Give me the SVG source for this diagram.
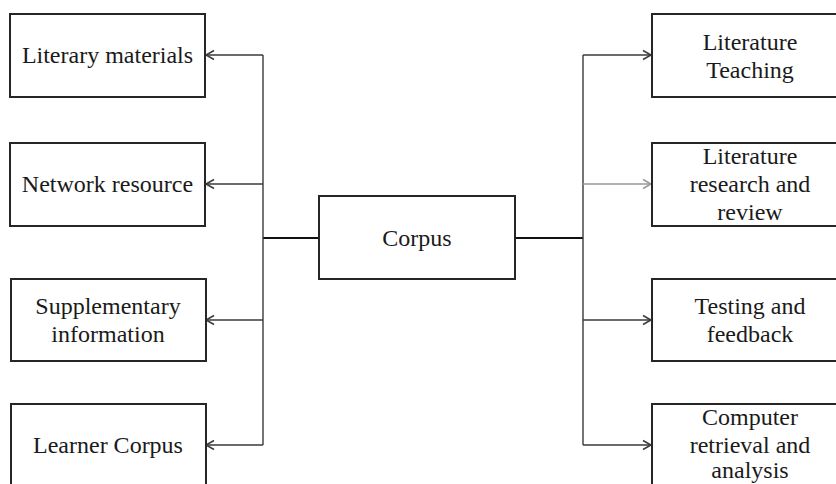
<svg xmlns="http://www.w3.org/2000/svg" width="836" height="484" viewBox="0 0 836 484">
<style>
.box{fill:#fff;stroke:#262626;stroke-width:2}
.t{font-family:"Liberation Serif","Times New Roman",serif;font-size:24px;fill:#1a1a1a;text-anchor:middle}
.c{fill:none;stroke:#3a3a3a;stroke-width:1.4}
.m{fill:none;stroke:#111;stroke-width:2}
</style>
<defs>
<marker id="ah" markerWidth="12" markerHeight="12" refX="10" refY="6" orient="auto" markerUnits="userSpaceOnUse">
<polyline points="2,1.5 10,6 2,10.5" fill="none" stroke="#3a3a3a" stroke-width="1.5"/>
</marker>
<marker id="ahl" markerWidth="12" markerHeight="12" refX="10" refY="6" orient="auto" markerUnits="userSpaceOnUse">
<polyline points="2,1.5 10,6 2,10.5" fill="none" stroke="#999" stroke-width="1.5"/>
</marker>
</defs>
<rect width="836" height="484" fill="#fff"/>
<g id="connectors">
<line class="m" x1="263" y1="238" x2="319" y2="238"/>
<line class="m" x1="515" y1="238" x2="583" y2="238"/>
<line class="c" x1="263" y1="55" x2="263" y2="445"/>
<line class="c" x1="583" y1="55" x2="583" y2="445"/>
<line class="c" x1="263" y1="55" x2="206" y2="55" marker-end="url(#ah)"/>
<line class="c" x1="263" y1="184" x2="206" y2="184" marker-end="url(#ah)"/>
<line class="c" x1="263" y1="320" x2="206" y2="320" marker-end="url(#ah)"/>
<line class="c" x1="263" y1="445" x2="206" y2="445" marker-end="url(#ah)"/>
<line class="c" x1="583" y1="55" x2="651" y2="55" marker-end="url(#ah)"/>
<line x1="583" y1="184" x2="651" y2="184" stroke="#999" stroke-width="1.4" marker-end="url(#ahl)"/>
<line class="c" x1="583" y1="320" x2="651" y2="320" marker-end="url(#ah)"/>
<line class="c" x1="583" y1="445" x2="651" y2="445" marker-end="url(#ah)"/>
</g>
<g id="corpus">
<rect class="box" x="319" y="196" width="196" height="83"/>
<text class="t" x="417" y="246">Corpus</text>
</g>
<g id="literary-materials">
<rect class="box" x="10" y="14" width="195" height="83"/>
<text class="t" x="107.5" y="63">Literary materials</text>
</g>
<g id="network-resource">
<rect class="box" x="10" y="143" width="195" height="83"/>
<text class="t" x="107.5" y="192">Network resource</text>
</g>
<g id="supplementary-information">
<rect class="box" x="11" y="279" width="195" height="82"/>
<text class="t" x="108" y="314">Supplementary</text>
<text class="t" x="108" y="342">information</text>
</g>
<g id="learner-corpus">
<rect class="box" x="11" y="404" width="195" height="100"/>
<text class="t" x="108" y="453">Learner Corpus</text>
</g>
<g id="literature-teaching">
<rect class="box" x="652" y="14" width="196" height="83"/>
<text class="t" x="750" y="50">Literature</text>
<text class="t" x="750" y="78">Teaching</text>
</g>
<g id="literature-research">
<rect class="box" x="652" y="143" width="196" height="83"/>
<text class="t" x="750" y="164">Literature</text>
<text class="t" x="750" y="192">research and</text>
<text class="t" x="750" y="220">review</text>
</g>
<g id="testing-feedback">
<rect class="box" x="652" y="279" width="196" height="82"/>
<text class="t" x="750" y="314">Testing and</text>
<text class="t" x="750" y="342">feedback</text>
</g>
<g id="computer-retrieval">
<rect class="box" x="652" y="404" width="196" height="100"/>
<text class="t" x="750" y="425">Computer</text>
<text class="t" x="750" y="453">retrieval and</text>
<text class="t" x="750" y="478">analysis</text>
</g>
</svg>
